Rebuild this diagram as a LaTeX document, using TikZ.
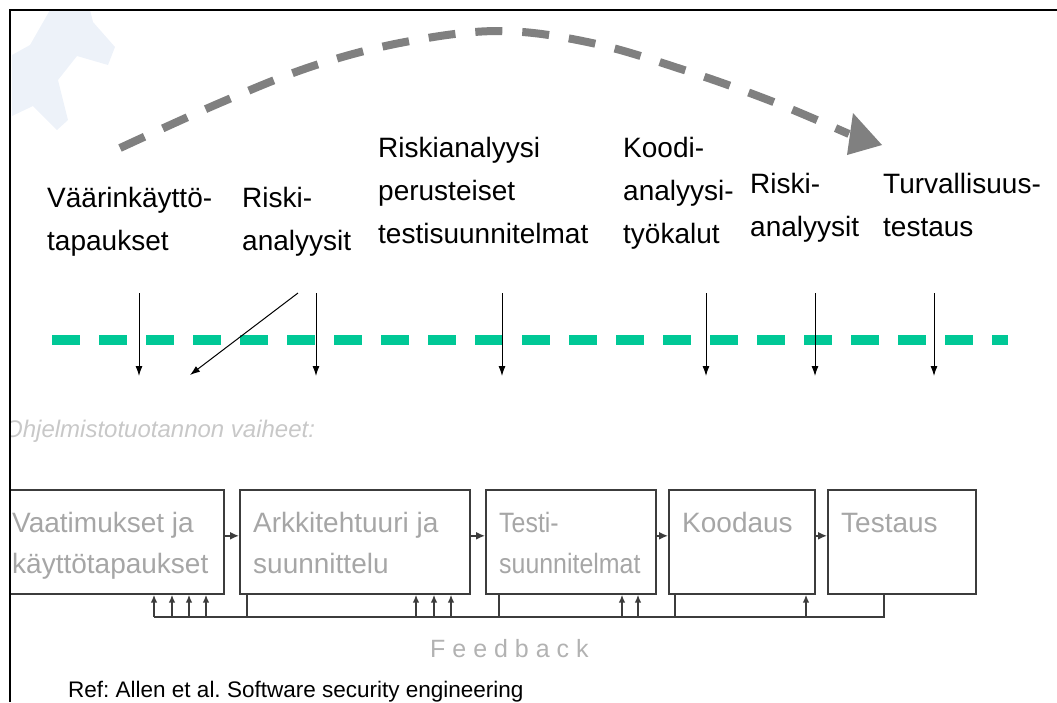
\documentclass[tikz,border=0pt]{standalone}
\usepackage{fontspec}
\usepackage{graphicx}
\setmainfont{Liberation Sans}
\usetikzlibrary{arrows.meta,calc}
\definecolor{arcgray}{RGB}{128,128,128}
\definecolor{lanegreen}{RGB}{0,200,150}
\definecolor{boxtext}{RGB}{166,166,166}
\definecolor{phasegray}{RGB}{200,200,200}
\definecolor{fbgray}{RGB}{178,178,178}
\definecolor{boxline}{RGB}{60,60,60}
\definecolor{logoblue}{RGB}{237,242,249}
\frenchspacing
\newcommand{\narrowline}[1]{\scalebox{0.89}[1]{#1}}

\begin{document}
\begin{tikzpicture}[x=1pt,y=-1pt,
  toplabel/.style={anchor=base west, align=left, inner sep=0pt, font=\fontsize{28}{43}\selectfont},
  phase/.style={draw=boxline, line width=1.6pt, minimum height=104pt, inner sep=0pt, anchor=north west},
  phasetext/.style={anchor=base west, align=left, inner sep=0pt, text=boxtext, font=\fontsize{28}{41}\selectfont},
  drop/.style={-{Latex[length=10pt,width=7pt]}, line width=1pt},
  flow/.style={-{Latex[length=9pt,width=8pt]}, line width=1.6pt, draw=boxline},
  fbline/.style={line width=1.6pt, draw=boxline},
  fbarrow/.style={fbline, -{Latex[length=8pt,width=6.5pt]}},
]
\useasboundingbox (0,0) rectangle (1057,702);

\begin{scope}
\clip (10,10) rectangle (1057,702);

% faint emblem in the corner
\fill[logoblue] (50,10) -- (90,10) -- (93,22) -- (115,47) -- (108,65) -- (77,56)
  -- (58,80) -- (68,120) -- (57,130) -- (33,106) -- (12,116) -- (12,55) -- (30,45) -- cycle;

% process arc over the activities
\draw[arcgray, line width=8pt, dash pattern=on 27pt off 20pt]
  plot[smooth, tension=0.6] coordinates {(120,148) (222,102) (313,66) (405,42) (500,31)
  (592,43) (684,70) (771,101) (849,134)};
\coordinate (tipA) at (853,113);
\coordinate (tipB) at (882,145);
\coordinate (tipC) at (847,155);
\fill[arcgray] (tipA) -- (tipB) -- (tipC) -- cycle;

% security activities (anchored at the baseline of their last line)
\node[toplabel] (l1) at (47,250) {Väärinkäyttö-\\tapaukset};
\node[toplabel] (l2) at (242,250) {Riski-\\analyysit};
\node[toplabel] (l3) at (378,243) {Riskianalyysi\\perusteiset\\testisuunnitelmat};
\node[toplabel] (l4) at (623,243) {Koodi-\\analyysi-\\työkalut};
\node[toplabel] (l5) at (750,236) {Riski-\\analyysit};
\node[toplabel] (l6) at (883,236) {Turvallisuus-\\testaus};

% green time line
\coordinate (laneL) at (52,340);
\coordinate (laneR) at (1008,340);
\draw[lanegreen, line width=10pt, dash pattern=on 28pt off 19pt] (laneL) -- (laneR);

% activity pointers
\coordinate (d1) at (139,293);
\coordinate (d2) at (316,293);
\coordinate (d3) at (502,293);
\coordinate (d4) at (706,293);
\coordinate (d5) at (815,293);
\coordinate (d6) at (934,293);
\foreach \d in {d1,d2,d3,d4,d5,d6} \draw[drop] (\d) -- ++(0,83);
\coordinate (dgS) at (298,293);
\coordinate (dgE) at (190,375);
\draw[drop] (dgS) -- (dgE);

% phases
\node[anchor=base west, inner sep=0pt, text=phasegray, font=\fontsize{24}{24}\selectfont\itshape]
  (ph) at (4,437) {Ohjelmistotuotannon vaiheet:};

\node[phase, minimum width=225pt] (B1) at (-2,489) {};
\node[phase, minimum width=230pt] (B2) at (239,489) {};
\node[phase, minimum width=170pt] (B3) at (485,489) {};
\node[phase, minimum width=146pt] (B4) at (668,489) {};
\node[phase, minimum width=148pt] (B5) at (827,489) {};

\node[phasetext] (t1) at ($(B1.north west)+(14,84)$) {Vaatimukset ja\\käyttötapaukset};
\node[phasetext] (t2) at ($(B2.north west)+(14,84)$) {Arkkitehtuuri ja\\suunnittelu};
\node[phasetext] (t3) at ($(B3.north west)+(14,84)$) {\narrowline{Testi-}\\\narrowline{suunnitelmat}};
\node[phasetext] (t4) at ($(B4.north west)+(14,43)$) {Koodaus};
\node[phasetext] (t5) at ($(B5.north west)+(14,43)$) {Testaus};

\draw[flow] ([yshift=6pt]B1.east) -- ([yshift=6pt]B2.west);
\draw[flow] ([yshift=6pt]B2.east) -- ([yshift=6pt]B3.west);
\draw[flow] ([yshift=6pt]B3.east) -- ([yshift=6pt]B4.west);
\draw[flow] ([yshift=6pt]B4.east) -- ([yshift=6pt]B5.west);

% feedback bus
\coordinate (fbL) at (154,617);
\coordinate (fbR) at (884,617);
\draw[fbline] (fbL) -- (fbR) -- (fbR |- B5.south);
\draw[fbline] (247,617) -- (247,617 |- B2.south);
\draw[fbline] (499,617) -- (499,617 |- B3.south);
\draw[fbline] (675,617) -- (675,617 |- B4.south);
\foreach \x in {154,172,189,206} \draw[fbarrow] (\x,617) -- (\x,617 |- B1.south);
\foreach \x in {416,434,451} \draw[fbarrow] (\x,617) -- (\x,617 |- B2.south);
\foreach \x in {622,638} \draw[fbarrow] (\x,617) -- (\x,617 |- B3.south);
\draw[fbarrow] (806,617) -- (806,617 |- B4.south);

\node[anchor=base west, inner sep=0pt, text=fbgray, font=\fontsize{25}{25}\selectfont]
  (fb) at (430,657) {F e e d b a c k};

\node[anchor=base west, inner sep=0pt, font=\fontsize{22.5}{24}\selectfont]
  (ref) at (68,697) {Ref: Allen et al. Software security engineering};
\end{scope}

% frame
\draw[line width=2pt] (10,702) -- (10,10) -- (1057,10);
\end{tikzpicture}
\end{document}
